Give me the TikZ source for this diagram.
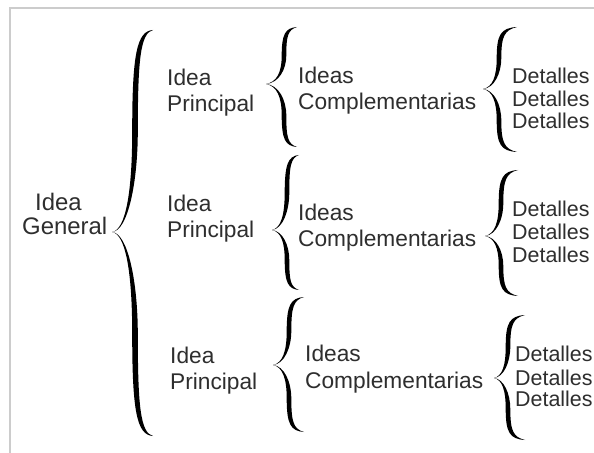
\documentclass[tikz,border=0pt]{standalone}
\usepackage{fontspec}
\setmainfont{Liberation Sans}
\newcommand\cbrace[7]{% #1 a (stem x), #2 top y, #3 tip y, #4 bottom y, #5 end offset, #6 tip offset, #7 half width
  \fill[bracefill]
    ({#1+#5},{#2})
    .. controls ({#1+0.1*#5},{#2+1}) and ({#1-#7},{#2+0.12*(#3-#2)}) .. ({#1-#7},{#2+0.5*(#3-#2)})
    .. controls ({#1-#7},{#3-0.2*(#3-#2)}) and ({#1-0.4*#6},{#3-2}) .. ({#1-#6},{#3})
    .. controls ({#1-0.4*#6},{#3+2}) and ({#1-#7},{#3+0.2*(#4-#3)}) .. ({#1-#7},{#3+0.5*(#4-#3)})
    .. controls ({#1-#7},{#4-0.12*(#4-#3)}) and ({#1+0.1*#5},{#4-1}) .. ({#1+#5},{#4})
    .. controls ({#1+0.3*#5},{#4-3}) and ({#1+#7},{#4-0.15*(#4-#3)}) .. ({#1+#7},{#3+0.5*(#4-#3)})
    .. controls ({#1+#7},{#3+0.25*(#4-#3)}) and ({#1-0.3*#6},{#3+1}) .. ({#1-#6},{#3})
    .. controls ({#1-0.3*#6},{#3-1}) and ({#1+#7},{#3-0.25*(#3-#2)}) .. ({#1+#7},{#2+0.5*(#3-#2)})
    .. controls ({#1+#7},{#2+0.15*(#3-#2)}) and ({#1+0.3*#5},{#2+3}) .. ({#1+#5},{#2}) -- cycle;
}
\begin{document}
\begin{tikzpicture}[x=1bp,y=-1bp,
  bracefill/.style={fill=black},
  txt/.style={anchor=base west, inner sep=0pt, text=black!82, font=\fontsize{22.8}{25}\selectfont},
  dtxt/.style={txt, font=\fontsize{21.5}{23}\selectfont, text height=15.5pt, text depth=0pt},
  gtxt/.style={txt, font=\fontsize{24}{26}\selectfont},
  frame/.style={draw=black!20, line width=1.2bp}]
\useasboundingbox (0,0) rectangle (594,453);
\fill[white] (0,0) rectangle (594,453);
\draw[frame] (10,453) -- (10,8) -- (594,8);

% Idea General
\node[gtxt] (ig1) at (35,210.5) {Idea};
\node[gtxt] (ig2) at (22,234.5) {General};
\cbrace{135}{30}{232}{436}{18}{23}{2.8}

% Row 1
\node[txt] (p1a) at (167,85.5) {Idea};
\node[txt] (p1b) at (167,111.5) {Principal};
\cbrace{284}{27}{84}{147}{13}{18}{2.3}
\node[txt] (c1a) at (298,83.5) {Ideas};
\node[txt] (c1b) at (298,109.5) {Complementarias};
\cbrace{499}{27}{89}{152}{18}{16}{2.3}
\node[dtxt] (d1a) at (512,83.5) {Detalles};
\node[dtxt] (d1b) at (512,106.5) {Detalles};
\node[dtxt] (d1c) at (512,128.5) {Detalles};

% Row 2
\node[txt] (p2a) at (167,211.5) {Idea};
\node[txt] (p2b) at (167,237.5) {Principal};
\cbrace{287}{155}{230}{290}{12}{15}{2.3}
\node[txt] (c2a) at (298,220.5) {Ideas};
\node[txt] (c2b) at (298,246.5) {Complementarias};
\cbrace{501}{170}{236}{296}{17}{16}{2.3}
\node[dtxt] (d2a) at (512,216.5) {Detalles};
\node[dtxt] (d2b) at (512,239.5) {Detalles};
\node[dtxt] (d2c) at (512,262.5) {Detalles};

% Row 3
\node[txt] (p3a) at (170,363.5) {Idea};
\node[txt] (p3b) at (170,389.5) {Principal};
\cbrace{289}{297}{365}{432}{15}{16}{2.3}
\node[txt] (c3a) at (305,361.5) {Ideas};
\node[txt] (c3b) at (305,388.5) {Complementarias};
\cbrace{508}{315}{378}{440}{17}{14}{2.3}
\node[dtxt] (d3a) at (515,361.5) {Detalles};
\node[dtxt] (d3b) at (515,385.5) {Detalles};
\node[dtxt] (d3c) at (515,406.5) {Detalles};
\end{tikzpicture}
\end{document}
